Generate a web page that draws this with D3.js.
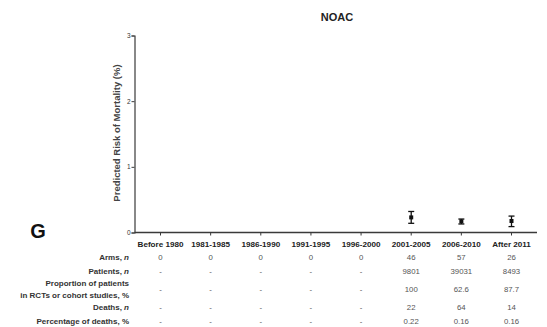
<!DOCTYPE html>
<html>
<head>
<meta charset="utf-8">
<script src="https://cdn.jsdelivr.net/npm/d3@7"></script>
<style>
  html, body { margin: 0; padding: 0; background: #fff; }
  svg { display: block; font-family: "Liberation Sans", Arial, sans-serif; }
</style>
</head>
<body>
<svg id="chart" width="547" height="327"></svg>
<script>
// Time periods on the x axis
const periods = ["Before 1980", "1981-1985", "1986-1990", "1991-1995", "1996-2000", "2001-2005", "2006-2010", "After 2011"];

// Predicted risk of mortality (%) with its interval, only where arms exist
const riskPeriods = ["2001-2005", "2006-2010", "After 2011"];
const riskMean  = [0.23, 0.17, 0.175];
const riskLow   = [0.14, 0.13, 0.09];
const riskHigh  = [0.32, 0.205, 0.25];

// Summary table rows
const rowLabels = [["Arms, ", "n"], ["Patients, ", "n"], ["Proportion of patients", "in RCTs or cohort studies, %"], ["Deaths, ", "n"], ["Percentage of deaths, %", ""]];
const armsRow        = ["0", "0", "0", "0", "0", "46", "57", "26"];
const patientsRow    = ["-", "-", "-", "-", "-", "9801", "39031", "8493"];
const proportionRow  = ["-", "-", "-", "-", "-", "100", "62.6", "87.7"];
const deathsRow      = ["-", "-", "-", "-", "-", "22", "64", "14"];
const pctDeathsRow   = ["-", "-", "-", "-", "-", "0.22", "0.16", "0.16"];

const yTicks = [0, 1, 2, 3];

const svg = d3.select("#chart");
const axisColor = "#3a3a3a";

const x = d3.scalePoint().domain(periods).range([160.5, 511.5]);
const y = d3.scaleLinear().domain([0, 3]).range([232.5, 35.5]);
const axisLeft = 134.5, axisRight = 537;

// Title
svg.append("text").attr("x", 337).attr("y", 21)
  .attr("text-anchor", "middle").attr("font-size", 11).attr("font-weight", "bold")
  .attr("fill", "#222").text("NOAC");

// Panel letter
svg.append("text").attr("x", 38).attr("y", 238)
  .attr("text-anchor", "middle").attr("font-size", 20).attr("font-weight", "bold")
  .attr("fill", "#111").text("G");

// Y axis
const yAxis = svg.append("g").attr("transform", `translate(${axisLeft},0)`)
  .call(d3.axisLeft(y).tickValues(yTicks).tickFormat(d3.format("d")).tickSize(3).tickPadding(1));
yAxis.select(".domain").attr("stroke", axisColor).attr("stroke-width", 1.2);
yAxis.selectAll(".tick line").attr("stroke", axisColor);
yAxis.selectAll(".tick text").attr("font-size", 6.5).attr("fill", "#333")
  .attr("font-family", "Liberation Sans, Arial, sans-serif");

// Y axis title
svg.append("text")
  .attr("transform", "translate(120,133) rotate(-90)")
  .attr("text-anchor", "middle").attr("font-size", 9.5).attr("font-weight", "bold")
  .attr("fill", "#444").text("Predicted Risk of Mortality (%)");

// X axis
svg.append("line").attr("x1", axisLeft).attr("x2", axisRight)
  .attr("y1", y(0)).attr("y2", y(0)).attr("stroke", axisColor).attr("stroke-width", 1.4);
svg.append("g").selectAll("line").data(periods).join("line")
  .attr("x1", d => x(d)).attr("x2", d => x(d))
  .attr("y1", y(0)).attr("y2", y(0) + 3)
  .attr("stroke", axisColor).attr("stroke-width", 1);

// Category labels
svg.append("g").selectAll("text").data(periods).join("text")
  .attr("x", d => x(d)).attr("y", 247)
  .attr("text-anchor", "middle").attr("font-size", 8.1).attr("font-weight", "bold")
  .attr("fill", "#222").text(d => d);

// Error bars with means
const pts = riskPeriods.map((p, i) => ({ p, m: riskMean[i], lo: riskLow[i], hi: riskHigh[i] }));
const eb = svg.append("g").selectAll("g").data(pts).join("g");
eb.append("line").attr("x1", d => x(d.p)).attr("x2", d => x(d.p))
  .attr("y1", d => y(d.lo)).attr("y2", d => y(d.hi)).attr("stroke", "#111").attr("stroke-width", 1.3);
eb.append("line").attr("x1", d => x(d.p) - 3).attr("x2", d => x(d.p) + 3)
  .attr("y1", d => y(d.hi)).attr("y2", d => y(d.hi)).attr("stroke", "#111").attr("stroke-width", 1.3);
eb.append("line").attr("x1", d => x(d.p) - 3).attr("x2", d => x(d.p) + 3)
  .attr("y1", d => y(d.lo)).attr("y2", d => y(d.lo)).attr("stroke", "#111").attr("stroke-width", 1.3);
eb.append("rect").attr("x", d => x(d.p) - 2).attr("y", d => y(d.m) - 2)
  .attr("width", 4).attr("height", 4).attr("fill", "#111");

// Summary table
const rows = [
  { label: rowLabels[0], values: armsRow, y: 260 },
  { label: rowLabels[1], values: patientsRow, y: 274 },
  { label: rowLabels[2], values: proportionRow, y: 292, twoLine: true },
  { label: rowLabels[3], values: deathsRow, y: 310 },
  { label: rowLabels[4], values: pctDeathsRow, y: 324 }
];
const labelRight = 129;
const labelSize = 8;
const valueSize = 7.8;
const table = svg.append("g");
rows.forEach(r => {
  if (r.twoLine) {
    table.append("text").attr("x", labelRight).attr("y", r.y - 6)
      .attr("text-anchor", "end").attr("font-size", labelSize).attr("font-weight", "bold")
      .attr("fill", "#333").text(r.label[0]);
    table.append("text").attr("x", labelRight).attr("y", r.y + 6)
      .attr("text-anchor", "end").attr("font-size", labelSize).attr("font-weight", "bold")
      .attr("fill", "#333").text(r.label[1]);
  } else {
    const t = table.append("text").attr("x", labelRight).attr("y", r.y)
      .attr("text-anchor", "end").attr("font-size", labelSize).attr("font-weight", "bold").attr("fill", "#333");
    t.append("tspan").text(r.label[0]);
    if (r.label[1]) t.append("tspan").attr("font-style", "italic").text(r.label[1]);
  }
  table.append("g").selectAll("text").data(r.values).join("text")
    .attr("x", (d, i) => x(periods[i])).attr("y", r.y)
    .attr("text-anchor", "middle").attr("font-size", valueSize).attr("fill", "#555")
    .text(d => d);
});
</script>
</body>
</html>
